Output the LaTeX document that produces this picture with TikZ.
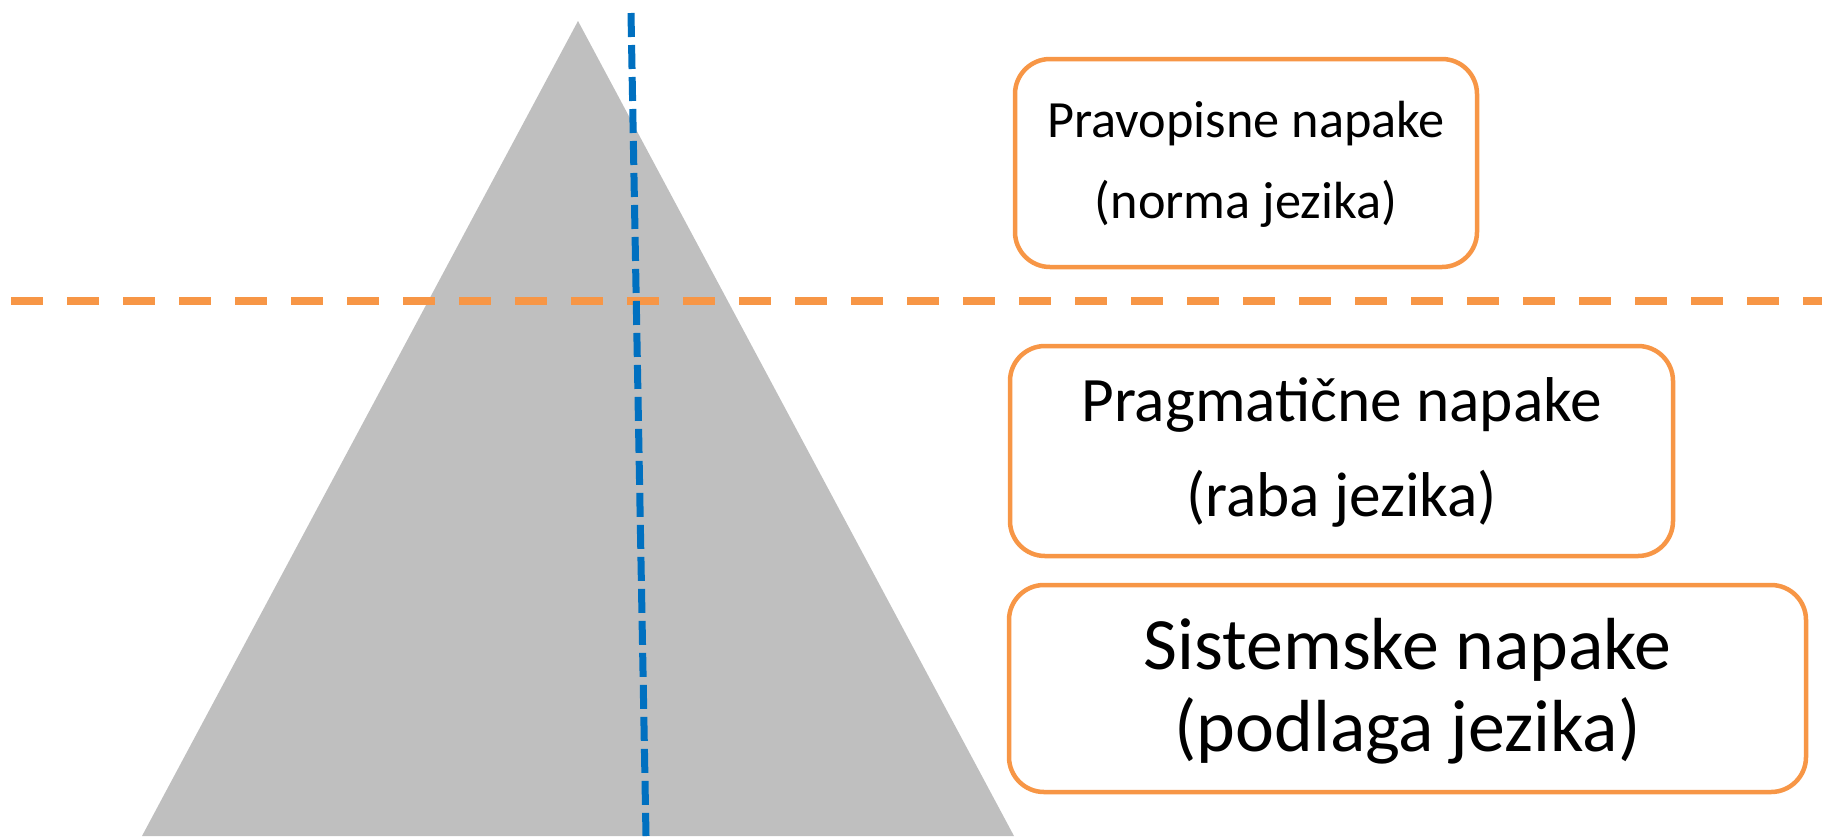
\documentclass[tikz,border=0pt]{standalone}
\usepackage{fontspec}
\setmainfont{Carlito}
\definecolor{tri}{HTML}{BFBFBF}
\definecolor{myblue}{HTML}{0070C0}
\definecolor{myorange}{HTML}{F79646}
\begin{document}
\begin{tikzpicture}[x=1pt,y=-1pt,
  errbox/.style={draw=myorange, line width=4.5pt, rounded corners=35pt, fill=white,
                 inner sep=0pt, outer sep=0pt},
  lbl/.style={anchor=base, inner sep=0pt, text=black}]
\useasboundingbox (0,0) rectangle (1822,836);
% triangle
\fill[tri] (578,21) -- (1014,836) -- (142,836) -- cycle;
% horizontal orange dashed line
\coordinate (hL) at (11,301);
\coordinate (hR) at (1822,301);
\draw[myorange, line width=7.7pt, dash pattern=on 32pt off 24pt] (hL) -- (hR);
% vertical blue dashed line
\coordinate (vT) at (631,13);
\coordinate (vB) at (646,836);
\draw[myblue, line width=7pt, dash pattern=on 24pt off 8pt] (vT) -- (vB);
% boxes
\node[errbox, minimum width=462pt, minimum height=208pt] (b1) at (1246,163) {};
\node[errbox, minimum width=663pt, minimum height=210pt] (b2) at (1341.5,451) {};
\node[errbox, minimum width=797pt, minimum height=207pt] (b3) at (1407.5,688.5) {};
% texts
\node[lbl, font=\fontsize{52.3}{60}\selectfont] (t1a) at (1246,137) {Pravopisne napake};
\node[lbl, font=\fontsize{52.3}{60}\selectfont] (t1b) at (1246,218) {(norma jezika)};
\node[lbl, font=\fontsize{63.3}{78}\selectfont] (t2a) at (1341.5,421) {Pragmatične napake};
\node[lbl, font=\fontsize{63.3}{78}\selectfont] (t2b) at (1341.5,516) {(raba jezika)};
\node[lbl, font=\fontsize{73.8}{88}\selectfont] (t3a) at (1407.5,669) {Sistemske napake};
\node[lbl, font=\fontsize{73.8}{88}\selectfont] (t3b) at (1407.5,751) {(podlaga jezika)};
\end{tikzpicture}
\end{document}
